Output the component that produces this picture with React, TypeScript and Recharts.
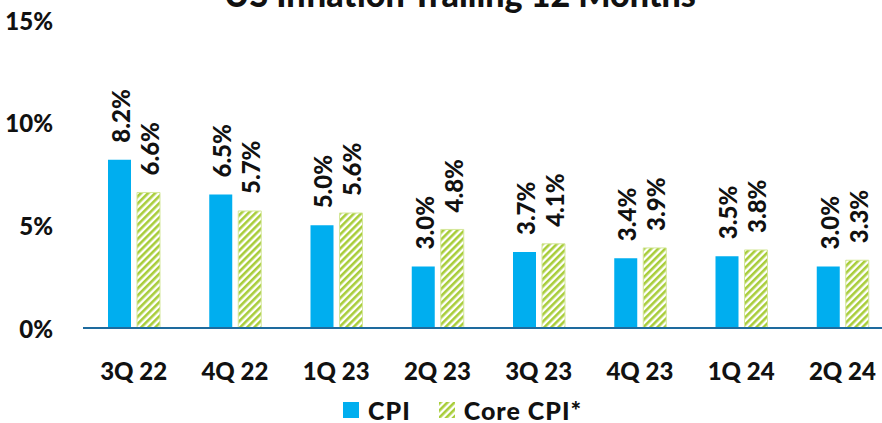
import { Bar, BarChart, LabelList, XAxis, YAxis } from "recharts";

const quarters = ["3Q 22", "4Q 22", "1Q 23", "2Q 23", "3Q 23", "4Q 23", "1Q 24", "2Q 24"];
const cpiValues = [8.2, 6.5, 5.0, 3.0, 3.7, 3.4, 3.5, 3.0];
const coreCpiValues = [6.6, 5.7, 5.6, 4.8, 4.1, 3.9, 3.8, 3.3];
const yTicks = [0, 5, 10, 15];

const chartData = quarters.map((quarter, i) => ({
  quarter,
  cpi: cpiValues[i],
  core: coreCpiValues[i],
}));

const FONT = "Lato, 'Open Sans', sans-serif";
const BLUE = "#00aeef";
const GREEN = "#a8cd3a";
const AXIS_BLUE = "#1e6b9e";

function YTick({ y, payload }: any) {
  return (
    <text x={53} y={y} textAnchor="end" dominantBaseline="central" fontFamily={FONT} fontWeight={900} fontSize={24} fill="#111">
      {payload.value}%
    </text>
  );
}

function XTick({ x, y, payload }: any) {
  return (
    <text x={x} y={y + 34} textAnchor="middle" dominantBaseline="central" fontFamily={FONT} fontWeight={900} fontSize={24} fill="#111">
      {payload.value}
    </text>
  );
}

function BarValueLabel({ x, y, width, value }: any) {
  const cx = x + width / 2 + 1;
  const cy = y - 17;
  return (
    <text
      x={cx}
      y={cy}
      transform={`rotate(-90 ${cx} ${cy})`}
      textAnchor="start"
      dominantBaseline="central"
      fontFamily={FONT}
      fontWeight={900}
      fontSize={24}
      fill="#111"
    >
      {Number(value).toFixed(1)}%
    </text>
  );
}

function HatchPattern({ id }: { id: string }) {
  return (
    <pattern id={id} patternUnits="userSpaceOnUse" width={5} height={5} patternTransform="rotate(45)">
      <rect width={5} height={5} fill="#ffffff" />
      <rect width={2.6} height={5} fill={GREEN} />
    </pattern>
  );
}

function ChartLegend() {
  return (
    <div
      style={{
        position: "absolute",
        left: 343,
        top: 396,
        display: "flex",
        alignItems: "center",
        fontFamily: FONT,
        fontWeight: 900,
        fontSize: 25,
        letterSpacing: 1,
        lineHeight: "28px",
        color: "#111",
        whiteSpace: "nowrap",
      }}
    >
      <span style={{ width: 16, height: 16, background: BLUE, display: "inline-block", marginRight: 9 }} />
      <span style={{ marginRight: 28 }}>CPI</span>
      <svg width={16} height={16} style={{ marginRight: 9 }}>
        <defs>
          <HatchPattern id="legendHatch" />
        </defs>
        <rect width={16} height={16} fill="url(#legendHatch)" />
      </svg>
      <span>Core CPI*</span>
    </div>
  );
}

export default function App() {
  return (
    <div style={{ position: "fixed", left: 0, top: 0, width: 882, height: 423, overflow: "hidden", background: "#fff" }}>
      <div style={{ position: "absolute", left: 0, top: 0 }}>
        <BarChart
          width={900}
          height={423}
          data={chartData}
          margin={{ top: 20, right: 7, bottom: 65, left: 0 }}
          barSize={23}
          barGap={6}
        >
          <defs>
            <HatchPattern id="coreHatchBar" />
          </defs>
          <XAxis
            dataKey="quarter"
            height={30}
            axisLine={{ stroke: AXIS_BLUE, strokeWidth: 2 }}
            tickLine={false}
            tick={<XTick />}
            interval={0}
          />
          <YAxis
            domain={[0, 15]}
            ticks={yTicks}
            width={83}
            axisLine={false}
            tickLine={false}
            tick={<YTick />}
          />
          <Bar dataKey="cpi" name="CPI" fill={BLUE} isAnimationActive={false}>
            <LabelList dataKey="cpi" content={<BarValueLabel />} />
          </Bar>
          <Bar dataKey="core" name="Core CPI*" fill="url(#coreHatchBar)" stroke="#d4e79a" strokeWidth={1} isAnimationActive={false}>
            <LabelList dataKey="core" content={<BarValueLabel />} />
          </Bar>
        </BarChart>
      </div>
      <svg width={882} height={40} style={{ position: "absolute", left: 0, top: 0 }}>
        <text x={460} y={7} textAnchor="middle" fontFamily={FONT} fontWeight={900} fontSize={34} fill="#111">
          US Inflation Trailing 12 Months
        </text>
      </svg>
      <ChartLegend />
    </div>
  );
}
